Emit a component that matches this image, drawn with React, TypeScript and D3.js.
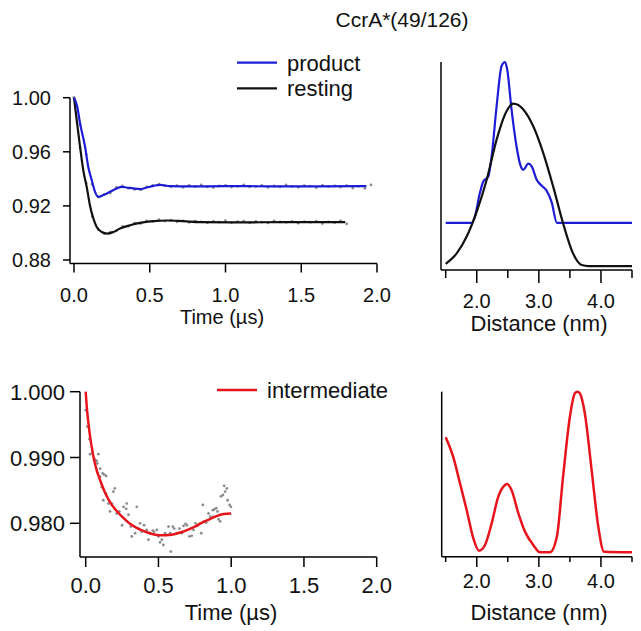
import React from 'react';
import * as d3 from 'd3';

// ---------- data ----------
const chartTitle = 'CcrA*(49/126)';
const timeStep = 0.04;
const productData = [1.000, 0.980, 0.958, 0.936, 0.9265, 0.9285, 0.9295, 0.9338, 0.9348, 0.9330, 0.9322, 0.9320, 0.9340, 0.9352, 0.9360, 0.9348, 0.9342, 0.9350, 0.9338, 0.9352, 0.9342, 0.9355, 0.9340, 0.9336, 0.9348, 0.9351, 0.9339, 0.9345, 0.9356, 0.9340, 0.9343, 0.9352, 0.9337, 0.9347, 0.9341, 0.9355, 0.9344, 0.9338, 0.9350, 0.9346, 0.9335, 0.9352, 0.9343, 0.9348, 0.9339, 0.9350, 0.9332, 0.9345, 0.9330, 0.9355];
const restingData = [1.000, 0.963, 0.937, 0.912, 0.9025, 0.8995, 0.9005, 0.9015, 0.9048, 0.9050, 0.9072, 0.9070, 0.9090, 0.9085, 0.9098, 0.9088, 0.9095, 0.9082, 0.9090, 0.9078, 0.9088, 0.9082, 0.9075, 0.9086, 0.9080, 0.9091, 0.9077, 0.9083, 0.9088, 0.9076, 0.9085, 0.9080, 0.9074, 0.9089, 0.9081, 0.9078, 0.9086, 0.9072, 0.9084, 0.9079, 0.9087, 0.9070, 0.9082, 0.9076, 0.9090, 0.9068];

const productFitT = [0, 0.02, 0.04, 0.073, 0.094, 0.117, 0.139, 0.16, 0.193, 0.238, 0.282, 0.315, 0.348, 0.391, 0.436, 0.48, 0.525, 0.568, 0.634, 0.75, 1.0, 1.3, 1.6, 1.93];
const productFitV = [1.000, 0.994, 0.981, 0.9637, 0.9489, 0.939, 0.9304, 0.9267, 0.928, 0.9304, 0.9329, 0.9341, 0.9336, 0.9329, 0.9324, 0.9336, 0.9348, 0.9356, 0.9346, 0.9344, 0.9346, 0.9345, 0.9345, 0.9346];
const restingFitT = [0, 0.018, 0.04, 0.061, 0.084, 0.106, 0.128, 0.15, 0.183, 0.22, 0.26, 0.304, 0.37, 0.436, 0.523, 0.612, 0.721, 0.832, 1.05, 1.4, 1.79];
const restingFitV = [1.000, 0.9834, 0.9637, 0.9464, 0.934, 0.920, 0.9107, 0.9044, 0.9007, 0.8995, 0.9007, 0.9033, 0.9057, 0.9074, 0.9087, 0.9092, 0.9087, 0.908, 0.9078, 0.908, 0.908];

const intermediateTime = [0, 0.011, 0.025, 0.03, 0.048, 0.064, 0.076, 0.08, 0.087, 0.099, 0.099, 0.11, 0.117, 0.121, 0.126, 0.14, 0.14, 0.156, 0.167, 0.179, 0.19, 0.2, 0.213, 0.231, 0.25, 0.26, 0.278, 0.282, 0.294, 0.31, 0.317, 0.34, 0.351, 0.362, 0.374, 0.385, 0.401, 0.419, 0.431, 0.442, 0.461, 0.47, 0.489, 0.5, 0.511, 0.523, 0.534, 0.546, 0.569, 0.581, 0.585, 0.599, 0.608, 0.626, 0.644, 0.66, 0.672, 0.686, 0.695, 0.713, 0.729, 0.741, 0.755, 0.768, 0.782, 0.794, 0.805, 0.814, 0.828, 0.844, 0.856, 0.874, 0.878, 0.883, 0.897, 0.906, 0.913, 0.924, 0.929, 0.943, 0.952, 0.959, 0.97, 0.975, 0.989, 0.998];
const intermediateSignal = [0.9972, 0.9947, 0.9928, 0.9905, 0.9907, 0.9897, 0.9895, 0.9891, 0.9905, 0.9883, 0.9871, 0.9855, 0.9876, 0.9835, 0.9874, 0.9872, 0.9845, 0.983, 0.9818, 0.983, 0.9848, 0.9853, 0.9815, 0.9818, 0.9797, 0.9825, 0.9822, 0.983, 0.9813, 0.9795, 0.978, 0.9785, 0.9825, 0.9792, 0.98, 0.9787, 0.9797, 0.979, 0.9775, 0.9785, 0.9789, 0.9787, 0.979, 0.978, 0.9771, 0.9775, 0.9767, 0.9785, 0.9795, 0.9785, 0.9757, 0.9795, 0.9792, 0.9785, 0.9792, 0.9785, 0.9796, 0.9799, 0.9797, 0.978, 0.9781, 0.979, 0.98, 0.9796, 0.9799, 0.9785, 0.9828, 0.9803, 0.9801, 0.9815, 0.981, 0.982, 0.981, 0.9821, 0.9823, 0.9818, 0.9806, 0.9803, 0.9841, 0.9843, 0.9857, 0.9848, 0.9853, 0.9835, 0.9828, 0.9825];
const intermediateFitT = [0, 0.01, 0.02, 0.03, 0.05, 0.07, 0.1, 0.13, 0.16, 0.2, 0.25, 0.3, 0.35, 0.4, 0.45, 0.5, 0.55, 0.6, 0.65, 0.7, 0.75, 0.8, 0.85, 0.9, 0.95, 1.0];
const intermediateFitV = [1.000, 0.9970, 0.9950, 0.9932, 0.9905, 0.9885, 0.9865, 0.9848, 0.9835, 0.9822, 0.9810, 0.9800, 0.9793, 0.9788, 0.9784, 0.9782, 0.9782, 0.9783, 0.9786, 0.9790, 0.9795, 0.9801, 0.9806, 0.9811, 0.9814, 0.9815];

const restingDistR = [1.5, 1.677, 1.838, 2.0, 2.16, 2.32, 2.455, 2.589, 2.75, 2.91, 3.07, 3.23, 3.39, 3.55, 3.69, 3.8, 4.5];
const restingDistP = [0.029, 0.080, 0.161, 0.281, 0.434, 0.627, 0.748, 0.80, 0.772, 0.691, 0.563, 0.402, 0.225, 0.08, 0.024, 0.019, 0.019];
const productDistR = [1.5, 1.919, 1.97, 2.05, 2.105, 2.186, 2.24, 2.32, 2.40, 2.455, 2.49, 2.56, 2.64, 2.70, 2.75, 2.83, 2.885, 2.965, 3.046, 3.126, 3.207, 3.29, 4.5];
const productDistP = [0.227, 0.227, 0.257, 0.37, 0.426, 0.45, 0.547, 0.788, 0.981, 1.0, 0.965, 0.772, 0.595, 0.507, 0.482, 0.511, 0.498, 0.434, 0.405, 0.381, 0.325, 0.227, 0.227];
const intermediateDistR = [1.5, 1.62, 1.73, 1.838, 1.945, 2.036, 2.133, 2.24, 2.347, 2.455, 2.49, 2.56, 2.67, 2.777, 2.91, 3.018, 3.18, 3.29, 3.39, 3.5, 3.58, 3.62, 3.66, 3.74, 3.85, 3.957, 4.05, 4.5];
const intermediateDistP = [0.724, 0.606, 0.445, 0.283, 0.111, 0.036, 0.071, 0.202, 0.364, 0.435, 0.441, 0.404, 0.263, 0.152, 0.071, 0.027, 0.027, 0.121, 0.485, 0.848, 0.99, 1.0, 0.99, 0.869, 0.525, 0.182, 0.03, 0.027];

const timeTicks = [0, 0.5, 1.0, 1.5, 2.0];
const topYTicks = [0.88, 0.92, 0.96, 1.0];
const bottomYTicks = [0.98, 0.99, 1.0];
const distTicks = [1.5, 2.0, 2.5, 3.0, 3.5, 4.0, 4.5];
const distLabelTicks = [2.0, 3.0, 4.0];
const legendTop = ['product', 'resting'];
const legendBottom = ['intermediate'];

// ---------- style ----------
const BLUE = '#1c1cd6';
const BLACK = '#111111';
const RED = '#e8141c';
const GRAY = '#8c8c8c';
const FONT = 'Liberation Sans, Arial, Helvetica, sans-serif';

const zip = (xs: number[], ys: number[]) => xs.map((x, i) => [x, ys[i]] as [number, number]);

export default function App() {
  // top-left
  const xTL = d3.scaleLinear().domain([0, 2]).range([74, 377]);
  const yTL = d3.scaleLinear().domain([0.88, 1.0]).range([260, 97.7]);
  // bottom-left
  const xBL = d3.scaleLinear().domain([0, 2]).range([85.7, 376.7]);
  const yBL = d3.scaleLinear().domain([0.98, 1.0]).range([523.3, 391.7]);
  // right panels
  const xTR = d3.scaleLinear().domain([1.5, 4.5]).range([445.7, 632]);
  const yTR = d3.scaleLinear().domain([0, 1]).range([270, 62]);
  const xBR = d3.scaleLinear().domain([1.5, 4.5]).range([445.7, 632]);
  const yBR = d3.scaleLinear().domain([0, 1]).range([556.7, 391.7]);

  const mk = (xs: d3.ScaleLinear<number, number>, ys: d3.ScaleLinear<number, number>) =>
    d3.line<[number, number]>().x(d => xs(d[0])).y(d => ys(d[1])).curve(d3.curveMonotoneX);

  const lineTL = mk(xTL, yTL);
  const lineBL = mk(xBL, yBL);
  const lineTR = mk(xTR, yTR);
  const lineBR = mk(xBR, yBR);

  const axisStroke = { stroke: '#000', strokeWidth: 1.5, fill: 'none' };

  return (
    <svg width={641} height={631} style={{ position: 'fixed', left: 0, top: 0, background: '#fff' }} fontFamily={FONT}>
      <rect x={0} y={0} width={641} height={631} fill="#fff" />
      <text x={402} y={27} fontSize={21} textAnchor="middle" fill="#111">{chartTitle}</text>

      {/* ---------- top-left ---------- */}
      <g>
        {productData.map((v, i) => (
          <circle key={'pd' + i} cx={xTL(i * timeStep)} cy={yTL(v)} r={1.4} fill={GRAY} />
        ))}
        {restingData.map((v, i) => (
          <circle key={'rd' + i} cx={xTL(i * timeStep)} cy={yTL(v)} r={1.4} fill={GRAY} />
        ))}
        <path d={lineTL(zip(restingFitT, restingFitV)) || ''} stroke={BLACK} strokeWidth={2.2} fill="none" />
        <path d={lineTL(zip(productFitT, productFitV)) || ''} stroke={BLUE} strokeWidth={2.2} fill="none" />
        <line x1={70} x2={70} y1={yTL(1.0)} y2={263.5} {...axisStroke} />
        <line x1={70} x2={xTL(2)} y1={263.5} y2={263.5} {...axisStroke} />
        {topYTicks.map(t => (
          <g key={'tly' + t}>
            <line x1={63} x2={70} y1={yTL(t)} y2={yTL(t)} {...axisStroke} />
            <text x={51} y={yTL(t) + 7} fontSize={20} textAnchor="end" fill="#111">{d3.format('.2f')(t)}</text>
          </g>
        ))}
        {timeTicks.map(t => (
          <g key={'tlx' + t}>
            <line x1={xTL(t)} x2={xTL(t)} y1={263.5} y2={272.5} {...axisStroke} />
            <text x={xTL(t)} y={302} fontSize={20} textAnchor="middle" fill="#111">{d3.format('.1f')(t)}</text>
          </g>
        ))}
        <text x={222} y={324} fontSize={20} textAnchor="middle" fill="#111">Time (µs)</text>
        {legendTop.map((name, i) => (
          <g key={name}>
            <line x1={237} x2={277} y1={62.7 + i * 25.6} y2={62.7 + i * 25.6} stroke={i === 0 ? BLUE : BLACK} strokeWidth={2.2} />
            <text x={287} y={70.5 + i * 25.6} fontSize={22} fill="#111">{name}</text>
          </g>
        ))}
      </g>

      {/* ---------- top-right ---------- */}
      <g>
        <path d={lineTR(zip(productDistR, productDistP)) || ''} stroke={BLUE} strokeWidth={2.2} fill="none" />
        <path d={lineTR(zip(restingDistR, restingDistP)) || ''} stroke={BLACK} strokeWidth={2.2} fill="none" />
        <line x1={441} x2={441} y1={yTR(1)} y2={270} {...axisStroke} />
        <line x1={441} x2={632} y1={270} y2={270} {...axisStroke} />
        {distTicks.map(t => (
          <line key={'trx' + t} x1={xTR(t)} x2={xTR(t)} y1={270} y2={distLabelTicks.includes(t) ? 283 : 278} {...axisStroke} />
        ))}
        {distLabelTicks.map(t => (
          <text key={'trl' + t} x={xTR(t)} y={308} fontSize={20} textAnchor="middle" fill="#111">{d3.format('.1f')(t)}</text>
        ))}
        <text x={539} y={331} fontSize={22} textAnchor="middle" fill="#111">Distance (nm)</text>
      </g>

      {/* ---------- bottom-left ---------- */}
      <g>
        {intermediateSignal.map((v, i) => (
          <circle key={'id' + i} cx={xBL(intermediateTime[i])} cy={yBL(v)} r={1.4} fill={GRAY} />
        ))}
        <path d={lineBL(zip(intermediateFitT, intermediateFitV)) || ''} stroke={RED} strokeWidth={2.5} fill="none" />
        <line x1={80} x2={80} y1={yBL(1.0)} y2={557} {...axisStroke} />
        <line x1={80} x2={xBL(2)} y1={557} y2={557} {...axisStroke} />
        {bottomYTicks.map(t => (
          <g key={'bly' + t}>
            <line x1={70} x2={80} y1={yBL(t)} y2={yBL(t)} {...axisStroke} />
            <text x={65} y={yBL(t) + 8} fontSize={22} textAnchor="end" fill="#111">{d3.format('.3f')(t)}</text>
          </g>
        ))}
        {timeTicks.map(t => (
          <g key={'blx' + t}>
            <line x1={xBL(t)} x2={xBL(t)} y1={557} y2={567} {...axisStroke} />
            <text x={xBL(t)} y={593} fontSize={22} textAnchor="middle" fill="#111">{d3.format('.1f')(t)}</text>
          </g>
        ))}
        <text x={231} y={620} fontSize={22} textAnchor="middle" fill="#111">Time (µs)</text>
        {legendBottom.map(name => (
          <g key={name}>
            <line x1={217} x2={257} y1={390} y2={390} stroke={RED} strokeWidth={2.5} />
            <text x={267} y={397.5} fontSize={22} fill="#111">{name}</text>
          </g>
        ))}
      </g>

      {/* ---------- bottom-right ---------- */}
      <g>
        <path d={lineBR(zip(intermediateDistR, intermediateDistP)) || ''} stroke={RED} strokeWidth={2.5} fill="none" />
        <line x1={441.7} x2={441.7} y1={yBR(1)} y2={556.7} {...axisStroke} />
        <line x1={441.7} x2={632} y1={556.7} y2={556.7} {...axisStroke} />
        {distTicks.map(t => (
          <line key={'brx' + t} x1={xBR(t)} x2={xBR(t)} y1={556.7} y2={distLabelTicks.includes(t) ? 567 : 562} {...axisStroke} />
        ))}
        {distLabelTicks.map(t => (
          <text key={'brl' + t} x={xBR(t)} y={588} fontSize={20} textAnchor="middle" fill="#111">{d3.format('.1f')(t)}</text>
        ))}
        <text x={539} y={620} fontSize={22} textAnchor="middle" fill="#111">Distance (nm)</text>
      </g>
    </svg>
  );
}
